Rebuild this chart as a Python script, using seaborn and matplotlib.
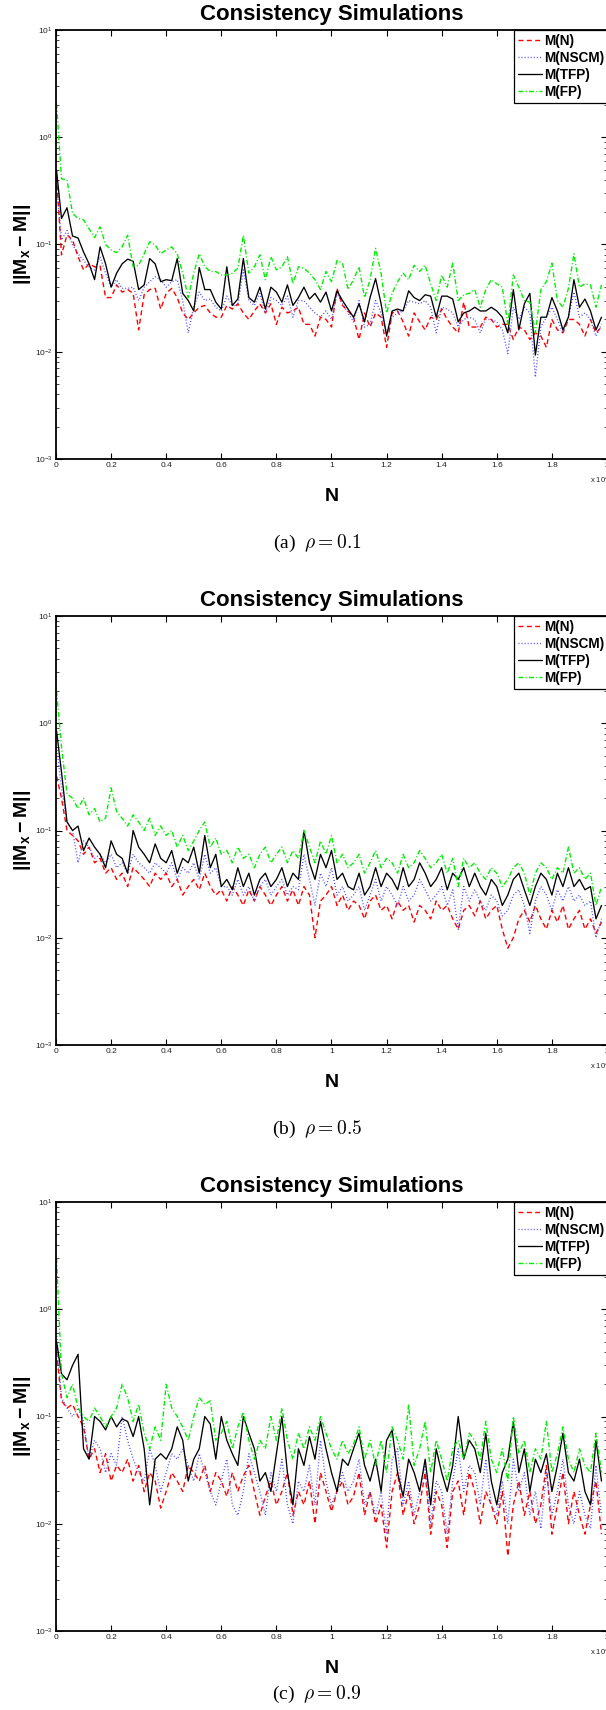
import numpy as np
import pandas as pd
import matplotlib
matplotlib.use("Agg")
import matplotlib.pyplot as plt
import seaborn as sns
from matplotlib.ticker import LogLocator, NullFormatter
from matplotlib.font_manager import FontProperties

# ---------------- data ----------------
N = [20] + list(range(200, 20000, 200))        # sample sizes (100 points)
series = ["M(N)", "M(NSCM)", "M(TFP)", "M(FP)"]
captions = ["(a)", "(b)", "(c)"]
rhos = ["0.1", "0.5", "0.9"]
xticks = [0, 0.2, 0.4, 0.6, 0.8, 1.0, 1.2, 1.4, 1.6, 1.8, 2.0]
xticklabels = ["0", "0.2", "0.4", "0.6", "0.8", "1", "1.2", "1.4", "1.6", "1.8", "2"]

# ---- (a) rho = 0.1
p1_N = [0.43, 0.080, 0.123, 0.11, 0.077, 0.058, 0.066, 0.062, 0.063, 0.032,
        0.032, 0.042, 0.036, 0.038, 0.035, 0.016, 0.034, 0.038, 0.039, 0.025,
        0.035, 0.039, 0.032, 0.023, 0.020, 0.023, 0.026, 0.027, 0.023, 0.021,
        0.021, 0.027, 0.025, 0.028, 0.023, 0.020, 0.024, 0.028, 0.023, 0.028,
        0.018, 0.026, 0.023, 0.024, 0.026, 0.018, 0.018, 0.014, 0.021, 0.020,
        0.017, 0.039, 0.027, 0.024, 0.021, 0.013, 0.023, 0.017, 0.023, 0.021,
        0.011, 0.023, 0.024, 0.019, 0.014, 0.023, 0.019, 0.016, 0.021, 0.020,
        0.025, 0.020, 0.017, 0.015, 0.029, 0.017, 0.017, 0.017, 0.021, 0.020,
        0.017, 0.018, 0.018, 0.013, 0.017, 0.016, 0.013, 0.015, 0.014, 0.011,
        0.020, 0.016, 0.015, 0.020, 0.020, 0.018, 0.014, 0.020, 0.015, 0.017]
p1_NSCM = [0.37, 0.11, 0.135, 0.10, 0.082, 0.071, 0.062, 0.058, 0.077, 0.054,
           0.040, 0.047, 0.039, 0.039, 0.040, 0.030, 0.040, 0.045, 0.050, 0.047,
           0.040, 0.045, 0.047, 0.030, 0.015, 0.026, 0.036, 0.030, 0.031, 0.026,
           0.024, 0.033, 0.027, 0.027, 0.058, 0.030, 0.027, 0.035, 0.023, 0.032,
           0.030, 0.027, 0.033, 0.021, 0.030, 0.030, 0.026, 0.023, 0.021, 0.024,
           0.020, 0.035, 0.028, 0.023, 0.019, 0.030, 0.017, 0.018, 0.030, 0.023,
           0.015, 0.021, 0.023, 0.024, 0.030, 0.029, 0.028, 0.030, 0.026, 0.015,
           0.026, 0.025, 0.023, 0.017, 0.020, 0.021, 0.020, 0.015, 0.020, 0.020,
           0.019, 0.016, 0.0096, 0.026, 0.020, 0.026, 0.023, 0.0058, 0.017, 0.021,
           0.026, 0.020, 0.015, 0.021, 0.036, 0.021, 0.023, 0.020, 0.014, 0.018]
p1_TFP = [0.49, 0.175, 0.22, 0.12, 0.115, 0.085, 0.066, 0.047, 0.095, 0.066,
          0.040, 0.054, 0.066, 0.073, 0.070, 0.038, 0.042, 0.074, 0.066, 0.045,
          0.047, 0.046, 0.074, 0.035, 0.030, 0.024, 0.061, 0.038, 0.038, 0.029,
          0.025, 0.062, 0.027, 0.031, 0.074, 0.032, 0.029, 0.040, 0.025, 0.040,
          0.036, 0.029, 0.042, 0.027, 0.032, 0.040, 0.031, 0.035, 0.029, 0.036,
          0.024, 0.037, 0.030, 0.025, 0.021, 0.028, 0.019, 0.032, 0.048, 0.028,
          0.014, 0.024, 0.025, 0.024, 0.037, 0.032, 0.030, 0.034, 0.033, 0.021,
          0.033, 0.033, 0.031, 0.019, 0.023, 0.024, 0.026, 0.024, 0.024, 0.026,
          0.024, 0.021, 0.015, 0.038, 0.016, 0.028, 0.035, 0.0093, 0.021, 0.021,
          0.032, 0.024, 0.016, 0.021, 0.047, 0.026, 0.031, 0.024, 0.016, 0.021]
p1_FP = [2.06, 0.41, 0.40, 0.195, 0.175, 0.17, 0.14, 0.116, 0.146, 0.10,
         0.089, 0.084, 0.095, 0.122, 0.062, 0.064, 0.082, 0.106, 0.099, 0.082,
         0.089, 0.095, 0.082, 0.054, 0.032, 0.054, 0.082, 0.062, 0.056, 0.056,
         0.052, 0.052, 0.054, 0.060, 0.122, 0.054, 0.062, 0.080, 0.047, 0.077,
         0.058, 0.062, 0.077, 0.043, 0.062, 0.060, 0.054, 0.047, 0.038, 0.056,
         0.045, 0.071, 0.067, 0.038, 0.047, 0.062, 0.032, 0.047, 0.092, 0.054,
         0.023, 0.035, 0.045, 0.054, 0.047, 0.064, 0.056, 0.064, 0.043, 0.030,
         0.052, 0.040, 0.067, 0.030, 0.034, 0.035, 0.038, 0.026, 0.038, 0.047,
         0.043, 0.040, 0.018, 0.052, 0.040, 0.030, 0.029, 0.015, 0.038, 0.045,
         0.067, 0.030, 0.026, 0.039, 0.082, 0.040, 0.043, 0.042, 0.026, 0.042]

# ---- (b) rho = 0.5
p2_N = [0.32, 0.20, 0.10, 0.09, 0.08, 0.06, 0.07, 0.05, 0.055, 0.04,
        0.045, 0.035, 0.04, 0.03, 0.045, 0.04, 0.035, 0.03, 0.04, 0.035,
        0.04, 0.03, 0.035, 0.025, 0.03, 0.035, 0.028, 0.04, 0.03, 0.025,
        0.028, 0.022, 0.03, 0.025, 0.02, 0.028, 0.022, 0.03, 0.025, 0.02,
        0.025, 0.03, 0.022, 0.028, 0.02, 0.03, 0.025, 0.01, 0.022, 0.025,
        0.03, 0.02, 0.025, 0.018, 0.022, 0.02, 0.015, 0.022, 0.025, 0.018,
        0.02, 0.015, 0.022, 0.018, 0.02, 0.014, 0.02, 0.018, 0.015, 0.022,
        0.018, 0.02, 0.015, 0.012, 0.018, 0.02, 0.016, 0.022, 0.015, 0.018,
        0.02, 0.012, 0.008, 0.01, 0.015, 0.018, 0.014, 0.02, 0.015, 0.012,
        0.018, 0.014, 0.02, 0.012, 0.015, 0.018, 0.012, 0.015, 0.011, 0.014]
p2_NSCM = [0.60, 0.25, 0.12, 0.10, 0.05, 0.08, 0.07, 0.055, 0.06, 0.05,
           0.06, 0.045, 0.05, 0.04, 0.06, 0.05, 0.045, 0.04, 0.05, 0.045,
           0.04, 0.05, 0.035, 0.045, 0.04, 0.05, 0.035, 0.06, 0.04, 0.045,
           0.03, 0.03, 0.025, 0.035, 0.025, 0.03, 0.022, 0.03, 0.035, 0.025,
           0.03, 0.035, 0.025, 0.03, 0.028, 0.06, 0.035, 0.02, 0.04, 0.03,
           0.045, 0.025, 0.03, 0.022, 0.025, 0.03, 0.018, 0.025, 0.035, 0.022,
           0.03, 0.025, 0.02, 0.03, 0.022, 0.025, 0.035, 0.028, 0.022, 0.025,
           0.03, 0.02, 0.028, 0.012, 0.03, 0.022, 0.028, 0.022, 0.018, 0.025,
           0.022, 0.016, 0.018, 0.025, 0.028, 0.02, 0.011, 0.022, 0.03, 0.025,
           0.018, 0.028, 0.022, 0.03, 0.022, 0.025, 0.02, 0.022, 0.010, 0.015]
p2_TFP = [0.85, 0.35, 0.12, 0.10, 0.11, 0.065, 0.085, 0.07, 0.06, 0.045,
          0.08, 0.06, 0.055, 0.04, 0.10, 0.07, 0.06, 0.05, 0.075, 0.055,
          0.05, 0.065, 0.04, 0.055, 0.05, 0.07, 0.04, 0.09, 0.045, 0.06,
          0.03, 0.035, 0.028, 0.045, 0.03, 0.04, 0.025, 0.035, 0.04, 0.03,
          0.035, 0.045, 0.03, 0.04, 0.035, 0.10, 0.05, 0.035, 0.06, 0.045,
          0.065, 0.035, 0.04, 0.03, 0.028, 0.04, 0.025, 0.03, 0.045, 0.03,
          0.04, 0.035, 0.028, 0.045, 0.03, 0.035, 0.05, 0.04, 0.03, 0.035,
          0.045, 0.028, 0.04, 0.035, 0.045, 0.03, 0.04, 0.03, 0.025, 0.035,
          0.03, 0.02, 0.025, 0.035, 0.04, 0.028, 0.02, 0.03, 0.04, 0.035,
          0.025, 0.04, 0.03, 0.045, 0.03, 0.035, 0.028, 0.03, 0.015, 0.02]
p2_FP = [2.0, 0.60, 0.22, 0.20, 0.16, 0.20, 0.14, 0.16, 0.12, 0.13,
         0.25, 0.15, 0.13, 0.11, 0.14, 0.12, 0.10, 0.13, 0.09, 0.11,
         0.09, 0.10, 0.07, 0.09, 0.065, 0.08, 0.10, 0.12, 0.07, 0.085,
         0.06, 0.065, 0.05, 0.07, 0.055, 0.06, 0.045, 0.06, 0.07, 0.05,
         0.06, 0.07, 0.05, 0.065, 0.055, 0.10, 0.07, 0.05, 0.08, 0.06,
         0.09, 0.05, 0.06, 0.045, 0.05, 0.06, 0.04, 0.05, 0.065, 0.045,
         0.055, 0.05, 0.04, 0.06, 0.045, 0.05, 0.065, 0.055, 0.045, 0.05,
         0.06, 0.04, 0.055, 0.03, 0.055, 0.045, 0.05, 0.04, 0.035, 0.045,
         0.04, 0.03, 0.035, 0.045, 0.05, 0.04, 0.025, 0.04, 0.05, 0.045,
         0.035, 0.045, 0.04, 0.07, 0.04, 0.045, 0.035, 0.04, 0.02, 0.03]

# ---- (c) rho = 0.9
p3_N = [0.40, 0.14, 0.12, 0.13, 0.10, 0.08, 0.04, 0.05, 0.03, 0.045,
        0.025, 0.035, 0.03, 0.04, 0.025, 0.035, 0.02, 0.03, 0.025, 0.014,
        0.02, 0.03, 0.025, 0.02, 0.035, 0.03, 0.025, 0.035, 0.02, 0.03,
        0.025, 0.018, 0.03, 0.02, 0.028, 0.035, 0.02, 0.012, 0.018, 0.025,
        0.015, 0.02, 0.03, 0.012, 0.02, 0.015, 0.025, 0.01, 0.03, 0.02,
        0.013, 0.02, 0.025, 0.015, 0.018, 0.03, 0.012, 0.02, 0.01, 0.015,
        0.006, 0.02, 0.03, 0.012, 0.02, 0.01, 0.015, 0.03, 0.008, 0.02,
        0.015, 0.006, 0.02, 0.025, 0.012, 0.03, 0.02, 0.01, 0.02, 0.015,
        0.01, 0.02, 0.005, 0.015, 0.025, 0.012, 0.02, 0.01, 0.015, 0.035,
        0.008, 0.015, 0.03, 0.01, 0.02, 0.012, 0.008, 0.015, 0.025, 0.008]
p3_NSCM = [0.60, 0.15, 0.12, 0.10, 0.12, 0.09, 0.04, 0.06, 0.05, 0.03,
           0.045, 0.035, 0.10, 0.06, 0.04, 0.03, 0.025, 0.05, 0.035, 0.02,
           0.03, 0.045, 0.04, 0.05, 0.035, 0.025, 0.045, 0.03, 0.02, 0.015,
           0.025, 0.04, 0.015, 0.012, 0.02, 0.045, 0.03, 0.02, 0.012, 0.03,
           0.02, 0.04, 0.015, 0.01, 0.025, 0.02, 0.035, 0.015, 0.06, 0.025,
           0.015, 0.02, 0.03, 0.02, 0.025, 0.04, 0.015, 0.02, 0.012, 0.02,
           0.008, 0.04, 0.05, 0.015, 0.025, 0.012, 0.02, 0.035, 0.01, 0.025,
           0.02, 0.008, 0.025, 0.05, 0.02, 0.035, 0.03, 0.015, 0.04, 0.015,
           0.012, 0.025, 0.01, 0.04, 0.02, 0.03, 0.012, 0.02, 0.009, 0.03,
           0.012, 0.02, 0.04, 0.015, 0.01, 0.02, 0.012, 0.009, 0.035, 0.012]
p3_TFP = [0.50, 0.25, 0.22, 0.30, 0.38, 0.05, 0.04, 0.10, 0.09, 0.075,
          0.10, 0.08, 0.095, 0.09, 0.065, 0.10, 0.05, 0.015, 0.04, 0.045,
          0.04, 0.05, 0.08, 0.06, 0.025, 0.04, 0.05, 0.10, 0.085, 0.04,
          0.10, 0.06, 0.045, 0.035, 0.10, 0.07, 0.05, 0.025, 0.03, 0.02,
          0.045, 0.10, 0.03, 0.015, 0.05, 0.035, 0.065, 0.04, 0.09, 0.05,
          0.03, 0.02, 0.04, 0.035, 0.05, 0.07, 0.035, 0.025, 0.04, 0.02,
          0.06, 0.075, 0.03, 0.018, 0.04, 0.03, 0.02, 0.04, 0.015, 0.05,
          0.03, 0.02, 0.035, 0.10, 0.04, 0.06, 0.05, 0.03, 0.07, 0.025,
          0.015, 0.03, 0.04, 0.09, 0.03, 0.05, 0.02, 0.04, 0.03, 0.045,
          0.02, 0.035, 0.07, 0.03, 0.025, 0.04, 0.02, 0.015, 0.06, 0.025]
p3_FP = [3.0, 0.25, 0.15, 0.20, 0.12, 0.10, 0.09, 0.12, 0.10, 0.08,
         0.10, 0.12, 0.20, 0.15, 0.09, 0.13, 0.07, 0.05, 0.08, 0.06,
         0.20, 0.12, 0.10, 0.08, 0.06, 0.10, 0.15, 0.13, 0.14, 0.06,
         0.07, 0.09, 0.05, 0.08, 0.11, 0.06, 0.04, 0.06, 0.05, 0.10,
         0.06, 0.12, 0.06, 0.04, 0.07, 0.05, 0.08, 0.06, 0.10, 0.07,
         0.05, 0.04, 0.06, 0.045, 0.055, 0.08, 0.04, 0.06, 0.035, 0.06,
         0.03, 0.08, 0.06, 0.04, 0.13, 0.035, 0.05, 0.09, 0.03, 0.06,
         0.04, 0.025, 0.05, 0.06, 0.04, 0.07, 0.06, 0.04, 0.09, 0.04,
         0.03, 0.05, 0.025, 0.10, 0.045, 0.06, 0.03, 0.05, 0.04, 0.09,
         0.03, 0.045, 0.08, 0.04, 0.03, 0.05, 0.035, 0.03, 0.07, 0.03]

panels = [
    [p1_N, p1_NSCM, p1_TFP, p1_FP],
    [p2_N, p2_NSCM, p2_TFP, p2_FP],
    [p3_N, p3_NSCM, p3_TFP, p3_FP],
]

# ---------------- style ----------------
colors = ["#ff0000", "#4a4aff", "#000000", "#00ee00"]
lstyles = [(0, (3.6, 2.4)), (0, (0.7, 1.5)), "-", (0, (3.6, 1.6, 0.8, 1.6))]
lwidths = [1.0, 1.0, 0.95, 1.0]

sns.set_theme(style="white")
plt.rcParams["font.family"] = ["Liberation Sans", "DejaVu Sans"]
plt.rcParams["mathtext.fontset"] = "custom"
plt.rcParams["mathtext.rm"] = "Liberation Sans"
plt.rcParams["mathtext.bf"] = "Liberation Sans:bold"
plt.rcParams["mathtext.it"] = "Liberation Sans:italic"
plt.rcParams["text.color"] = "black"
plt.rcParams["axes.labelcolor"] = "black"

W, H = 606, 1710
fig = plt.figure(figsize=(W / 100, H / 100), dpi=100)
fig.patch.set_facecolor("white")

ax_left, ax_w = 56, 551
tops = [30, 616, 1202]
ax_h = 429
cap_y = [543, 1129, 1694]

for k in range(3):
    top = tops[k]
    ax = fig.add_axes([ax_left / W, 1 - (top + ax_h) / H, ax_w / W, ax_h / H])
    xs = [n / 1e4 for n in N]
    df = pd.DataFrame({"N": xs})
    for name, vals in zip(series, panels[k]):
        df[name] = vals
    for name, c, ls, lw in zip(series, colors, lstyles, lwidths):
        sns.lineplot(data=df, x="N", y=name, ax=ax, color=c, linestyle=ls,
                     linewidth=lw, label=name, errorbar=None, legend=False)
    ax.set_yscale("log")
    ax.set_ylim(1e-3, 1e1)
    ax.set_xlim(0, 2.0)
    ax.set_xticks(xticks)
    ax.set_xticklabels(xticklabels)
    ax.yaxis.set_major_locator(LogLocator(base=10, numticks=10))
    ax.yaxis.set_minor_locator(LogLocator(base=10, subs=np.arange(2, 10), numticks=20))
    ax.yaxis.set_minor_formatter(NullFormatter())
    ax.tick_params(axis="both", which="major", direction="in", length=4, width=0.8,
                   labelsize=6, pad=2.5, colors="black", labelcolor="#222222",
                   top=True, right=True, left=True, bottom=True)
    ax.tick_params(axis="y", which="minor", direction="in", length=2.2, width=0.6,
                   left=True, right=True)
    ax.tick_params(axis="x", which="minor", bottom=False, top=False)
    for s in ["left", "bottom", "top", "right"]:
        ax.spines[s].set_color("black")
        ax.spines[s].set_linewidth(1.3)
    ax.grid(False)

    ax.set_title("Consistency Simulations", fontsize=16, fontweight="bold", pad=7,
                 color="black")
    ax.set_xlabel("N", fontsize=14, fontweight="bold", color="black")
    ax.xaxis.set_label_coords(0.5, -0.068)
    ax.set_ylabel(r"$\mathbf{||M_x - M||}$", fontsize=14, color="black")
    ax.yaxis.set_label_coords(-0.042, 0.5)
    ax.text((590 - ax_left) / ax_w, -0.049, r"x 10$^4$", transform=ax.transAxes,
            fontsize=5.5, ha="left", va="center", color="#222222")

    leg = ax.legend(loc="upper left", bbox_to_anchor=((514 - ax_left) / ax_w, 1.0),
                    borderaxespad=0, frameon=True, fancybox=False, framealpha=1,
                    edgecolor="black",
                    prop=FontProperties(family="Liberation Sans", weight="bold", size=9.8),
                    handlelength=1.75, handletextpad=0.2, labelspacing=0.22,
                    borderpad=0.3)
    leg.get_frame().set_linewidth(0.9)

    fig.text(317 / W, 1 - cap_y[k] / H, captions[k] + r"  $\rho = " + rhos[k] + "$",
             ha="center", va="center", fontsize=14, family="Liberation Serif",
             math_fontfamily="cm", color="black")

fig.savefig("out.png", dpi=100, facecolor="white")
